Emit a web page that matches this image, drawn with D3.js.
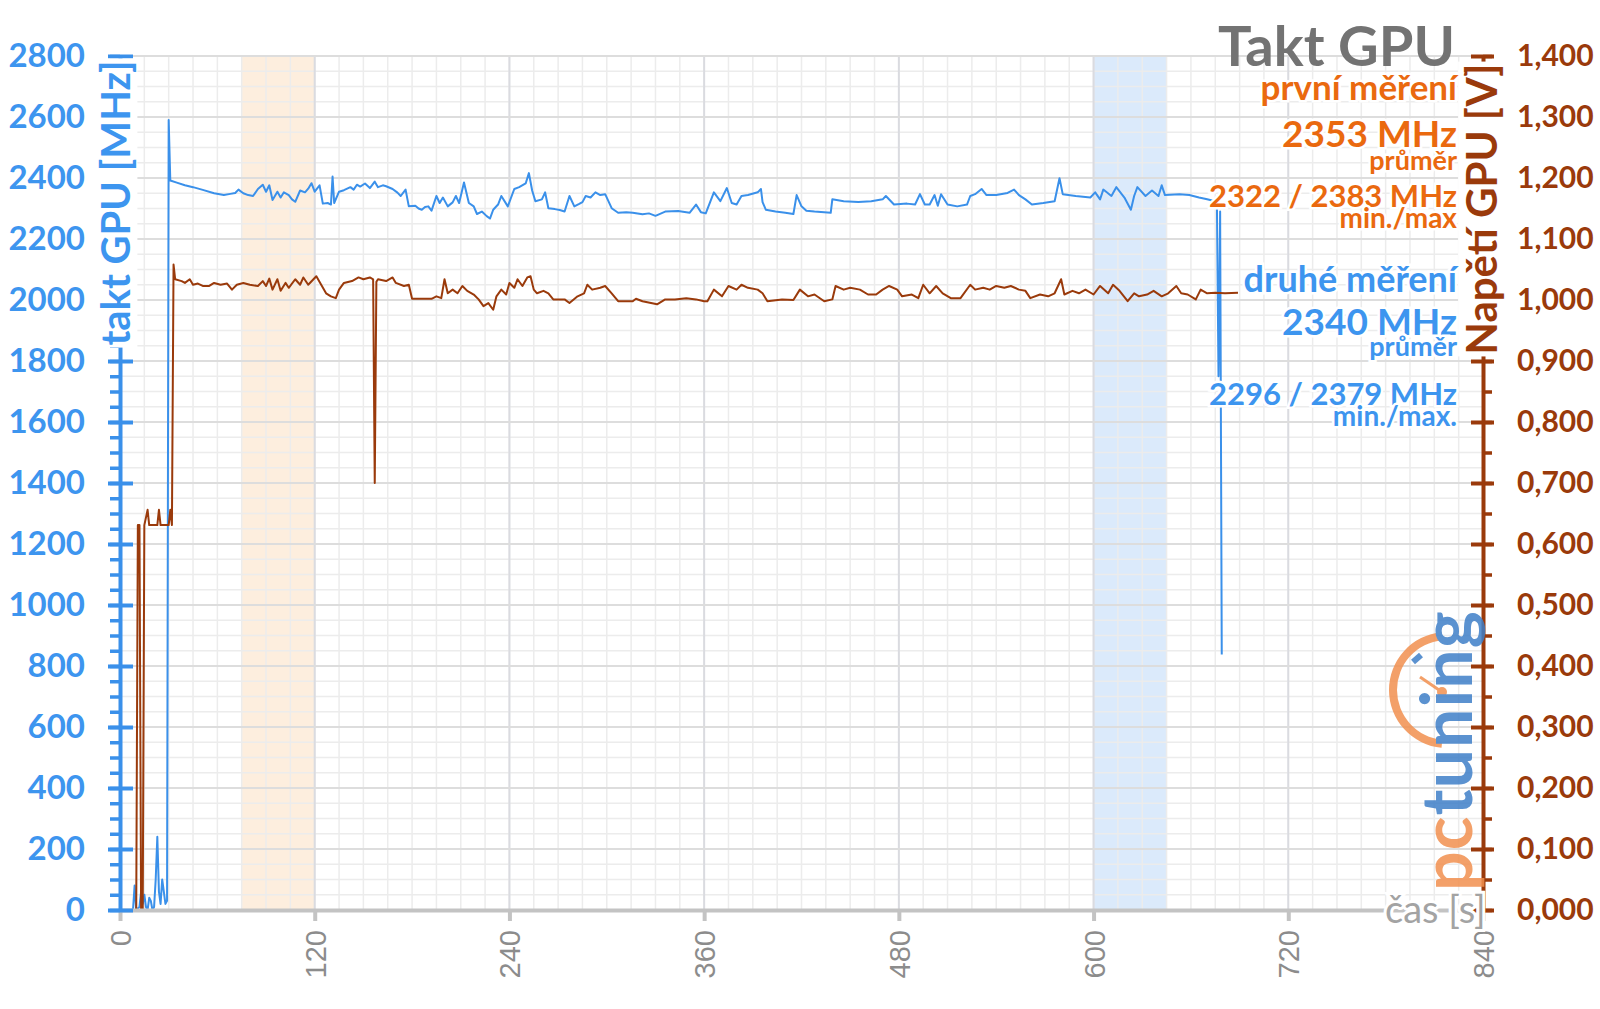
<!DOCTYPE html>
<html>
<head>
<meta charset="utf-8">
<script src="https://cdn.jsdelivr.net/npm/d3@7"></script>
<style>
body { margin: 0; background: #fff; }
text { font-family: Lato, "Open Sans", sans-serif; }
</style>
</head>
<body>
<script>
/** - - - - - - DATA
*/

// GPU clock, seconds / MHz
var clockT = [0,8,9,10,12,13,14,15,16,17,18,19,20,21,22,23,24,25,26,27,28,29,30,31,35,40,45,51,58,64,68,71,73,76,79,82,85,88,90,92,94,97,99,101,104,106,108,111,114,116,118,120,123,125,128,130,131,132,135,138,142,144,146,148,151,154,157,159,162,164,168,171,173,176,178,182,184,186,188,190,192,195,197,199,202,205,207,209,212,215,218,220,223,226,228,230,233,235,239,243,246,250,252,254,256,260,262,264,268,271,274,277,280,283,285,287,290,293,296,299,303,307,312,316,322,326,330,336,344,351,355,358,361,366,370,374,377,380,383,387,393,395,396,398,404,410,415,417,420,423,428,438,439,446,455,463,470,472,477,485,490,493,496,499,502,504,506,510,516,522,524,527,531,534,540,547,551,554,558,562,569,576,579,581,589,598,601,604,606,611,614,619,623,625,627,632,636,640,642,644,653,659,665,670,675,676,677,678,679];
var clockMHz = [0,0,80,0,10,60,20,50,10,0,40,30,0,10,100,240,60,20,100,60,20,30,2590,2392,2385,2376,2370,2361,2350,2344,2348,2351,2362,2350,2344,2341,2364,2378,2355,2376,2328,2355,2336,2353,2344,2330,2322,2359,2353,2365,2383,2355,2376,2316,2318,2313,2405,2318,2355,2360,2370,2362,2378,2372,2382,2367,2388,2370,2376,2373,2364,2352,2341,2362,2307,2309,2300,2296,2305,2307,2293,2341,2318,2336,2307,2320,2341,2318,2385,2318,2307,2282,2290,2275,2267,2296,2313,2341,2307,2364,2370,2382,2416,2359,2324,2330,2353,2301,2298,2295,2290,2341,2307,2315,2321,2341,2336,2353,2344,2347,2301,2286,2288,2286,2281,2284,2276,2290,2292,2286,2313,2288,2284,2353,2324,2367,2318,2313,2341,2344,2353,2364,2321,2296,2290,2286,2282,2344,2307,2293,2290,2286,2330,2324,2321,2324,2330,2341,2313,2316,2313,2347,2313,2313,2344,2309,2347,2313,2307,2313,2341,2347,2364,2344,2344,2351,2362,2344,2330,2313,2318,2324,2399,2347,2341,2336,2353,2330,2362,2341,2370,2336,2296,2341,2370,2341,2359,2341,2376,2344,2347,2344,2336,2330,2324,2322,1750,2290,838];

// GPU voltage, seconds / V
var voltT = [0,10,11,12,13,14,15,17,18,23,24,25,30,31,32,33,34,38,40,43,45,48,51,55,58,62,66,69,72,76,80,85,88,90,92,94,97,99,102,104,108,111,113,116,121,124,127,130,133,135,138,143,147,150,154,156,157,158,159,164,168,170,175,178,180,186,192,195,198,200,202,205,208,211,214,218,221,224,227,230,232,235,238,240,243,245,248,251,253,255,257,261,264,267,274,277,282,286,288,291,296,299,303,307,316,318,322,331,336,342,349,355,360,362,366,371,375,380,383,387,393,396,399,408,415,419,424,428,434,439,441,446,450,456,461,466,470,474,479,482,488,492,495,499,503,507,512,518,524,527,532,536,540,545,549,554,558,561,567,572,576,580,582,587,591,595,600,604,609,612,616,621,625,628,633,637,642,646,651,654,658,663,666,670,675,681,689];
var voltV = [0,0,0.631,0.631,0,0,0.631,0.656,0.631,0.631,0.656,0.631,0.631,0.656,0.631,1.058,1.034,1.031,1.028,1.034,1.025,1.027,1.023,1.023,1.028,1.025,1.027,1.017,1.025,1.028,1.025,1.023,1.031,1.023,1.035,1.017,1.034,1.015,1.028,1.020,1.034,1.025,1.037,1.025,1.039,1.025,1.011,1.006,1.003,1.017,1.028,1.031,1.037,1.034,1.037,1.034,0.700,1.030,1.034,1.031,1.037,1.028,1.023,1.025,1.002,1.002,1.002,1.006,1.003,1.034,1.011,1.017,1.011,1.023,1.015,1.009,1.001,0.990,0.995,0.984,1.006,1.017,1.009,1.028,1.020,1.034,1.023,1.037,1.039,1.017,1.011,1.015,1.011,1.001,1.001,0.995,1.006,1.011,1.025,1.017,1.020,1.023,1.011,0.998,0.998,1.002,0.998,0.993,1.001,1.001,1.003,1.001,0.998,0.998,1.017,1.006,1.023,1.017,1.025,1.020,1.017,1.011,0.998,1.001,1.000,1.017,1.006,1.009,0.998,1.001,1.023,1.017,1.020,1.017,1.009,1.009,1.017,1.023,1.017,1.006,1.009,1.003,1.025,1.011,1.023,1.011,1.003,1.003,1.025,1.017,1.020,1.017,1.023,1.020,1.023,1.017,1.015,1.003,1.009,1.006,1.011,1.034,1.009,1.015,1.011,1.017,1.009,1.023,1.011,1.025,1.015,0.998,1.011,1.006,1.009,1.015,1.006,1.011,1.023,1.011,1.009,1.001,1.017,1.011,1.012,1.011,1.012];

// highlighted measuring windows (s)
var bandStart = [75, 600];
var bandEnd = [120, 645];
var bandColor = ["#fdeede", "#dbeafb"];

// axis ticks
var xTicks = [0, 120, 240, 360, 480, 600, 720, 840];
var leftTicks = d3.range(0, 2801, 200);
var rightTicks = d3.range(0, 1.4001, 0.1);

// legend lines: text, size, baseline
var legendText = ["první měření", "2353 MHz", "průměr", "2322 / 2383 MHz", "min./max",
                  "druhé měření", "2340 MHz", "průměr", "2296 / 2379 MHz", "min./max."];
var legendSize = [35, 37, 27, 31, 28, 36, 37, 27, 31, 28];
var legendY = [100, 147, 170, 207, 228, 292, 335, 356, 405, 426];

var BLUE = "#3a90ea", BROWN = "#9a3a0b", ORANGE = "#ea690f", GRAY = "#8c8c8c";

/** - - - - - - SCALES
*/
var W = 1600, H = 1009;
var x = d3.scaleLinear().domain([0, 840]).range([120, 1483]);
var yL = d3.scaleLinear().domain([0, 2800]).range([910, 56]);
var yR = d3.scaleLinear().domain([0, 1.4]).range([910, 56]);

var svg = d3.select("body").append("svg")
  .attr("width", W).attr("height", H)
  .style("display", "block");

/** - - - - - - GRID + BANDS
*/
var grid = svg.append("g");

bandStart.forEach(function(s, i) {
  grid.append("rect")
    .attr("x", x(s)).attr("y", yL(2800))
    .attr("width", x(bandEnd[i]) - x(s))
    .attr("height", yL(0) - yL(2800))
    .attr("fill", bandColor[i]);
});

// minor lines every 15 s / 50 MHz
grid.selectAll(".vmin").data(d3.range(0, 841, 15)).enter().append("line")
  .attr("x1", x).attr("x2", x)
  .attr("y1", yL(2800)).attr("y2", yL(0))
  .attr("stroke", "#ececec").attr("stroke-width", 1.5);
grid.selectAll(".hmin").data(d3.range(0, 2801, 50)).enter().append("line")
  .attr("x1", x(0)).attr("x2", x(840))
  .attr("y1", yL).attr("y2", yL)
  .attr("stroke", "#ececec").attr("stroke-width", 1.5);
// major lines
grid.selectAll(".vmaj").data(xTicks).enter().append("line")
  .attr("x1", x).attr("x2", x)
  .attr("y1", yL(2800)).attr("y2", yL(0))
  .attr("stroke", "#dadbe0").attr("stroke-width", 2);
grid.selectAll(".hmaj").data(leftTicks).enter().append("line")
  .attr("x1", x(0)).attr("x2", x(840))
  .attr("y1", yL).attr("y2", yL)
  .attr("stroke", "#dddddd").attr("stroke-width", 2);

/** - - - - - - SERIES
*/
var clockData = clockT.map(function(t, i) { return [t, clockMHz[i]]; });
var voltData = voltT.map(function(t, i) { return [t, voltV[i]]; });

var clockLine = d3.line()
  .x(function(d) { return x(d[0]); })
  .y(function(d) { return yL(d[1]); });
var voltLine = d3.line()
  .x(function(d) { return x(d[0]); })
  .y(function(d) { return yR(d[1]); });

svg.append("path").datum(clockData)
  .attr("d", clockLine)
  .attr("fill", "none").attr("stroke", BLUE).attr("stroke-width", 2)
  .attr("stroke-linejoin", "round");
svg.append("path").datum(voltData)
  .attr("d", voltLine)
  .attr("fill", "none").attr("stroke", BROWN).attr("stroke-width", 2)
  .attr("stroke-linejoin", "round");

/** - - - - - - AXES
*/
// x axis
var xAxis = svg.append("g")
  .attr("transform", "translate(0," + yL(0) + ")")
  .call(d3.axisBottom(x).tickValues(xTicks).tickSizeInner(11).tickSizeOuter(0));
xAxis.select(".domain").attr("stroke", "#c3c3c3").attr("stroke-width", 4);
xAxis.selectAll(".tick line").attr("stroke", "#c3c3c3").attr("stroke-width", 4);
xAxis.selectAll(".tick text")
  .attr("fill", GRAY)
  .style("font-family", "'Liberation Sans', Arial, sans-serif")
  .style("font-size", "29px")
  .attr("text-anchor", "end")
  .attr("transform", "rotate(-90)")
  .attr("x", -20).attr("y", 0).attr("dy", "0.36em");

// left axis
var leftMinor = svg.append("g")
  .attr("transform", "translate(" + x(0) + ",0)")
  .call(d3.axisLeft(yL).tickValues(d3.range(0, 2801, 50)).tickSize(10).tickFormat(""));
leftMinor.select(".domain").remove();
leftMinor.selectAll(".tick line").attr("stroke", BLUE).attr("stroke-width", 3.5);

var leftAxis = svg.append("g")
  .attr("transform", "translate(" + x(0) + ",0)")
  .call(d3.axisLeft(yL).tickValues(leftTicks).tickSizeInner(12).tickSizeOuter(0).tickPadding(23)
    .tickFormat(d3.format("d")));
leftAxis.select(".domain").attr("stroke", BLUE).attr("stroke-width", 4);
leftAxis.selectAll(".tick line").attr("x2", 13).attr("x1", -12)
  .attr("stroke", BLUE).attr("stroke-width", 4);
leftAxis.selectAll(".tick text")
  .attr("fill", "#3d95ef")
  .style("font-family", "Lato, sans-serif")
  .style("font-size", "33px").style("font-weight", "bold");

// right axis
var rightMinor = svg.append("g")
  .attr("transform", "translate(" + x(840) + ",0)")
  .call(d3.axisRight(yR).tickValues(d3.range(0, 1.4001, 0.05)).tickSize(9).tickFormat(""));
rightMinor.select(".domain").remove();
rightMinor.selectAll(".tick line").attr("stroke", BROWN).attr("stroke-width", 3.5);

var rightAxis = svg.append("g")
  .attr("transform", "translate(" + x(840) + ",0)")
  .call(d3.axisRight(yR).tickValues(rightTicks).tickSizeInner(12).tickSizeOuter(0).tickPadding(22)
    .tickFormat(function(d) { return d3.format(".3f")(d).replace(".", ","); }));
rightAxis.select(".domain").attr("stroke", BROWN).attr("stroke-width", 4);
rightAxis.selectAll(".tick line").attr("x1", -12).attr("x2", 11)
  .attr("stroke", BROWN).attr("stroke-width", 4);
rightAxis.selectAll(".tick text")
  .attr("fill", BROWN)
  .style("font-family", "Lato, sans-serif")
  .style("font-size", "30px").style("font-weight", "bold");

// axis titles sit on the axis line, with a white backing
function axisTitle(txt, cx, cy, size, color) {
  var g = svg.append("g").attr("transform", "translate(" + cx + "," + cy + ") rotate(-90)");
  var bg = g.append("rect").attr("fill", "#fff");
  var t = g.append("text")
    .attr("text-anchor", "middle").attr("dy", "0.36em")
    .attr("fill", color)
    .style("font-size", size + "px").style("font-weight", "bold")
    .text(txt);
  var b = t.node().getBBox();
  bg.attr("x", b.x - 2).attr("y", b.y + 2).attr("width", b.width + 4).attr("height", b.height - 4);
}
axisTitle("takt GPU [MHz]", 116, 203, 40, "#3d95ef");
axisTitle("Napětí GPU [V]", 1482, 209, 42, BROWN);

/** - - - - - - TITLE + LEGEND
*/
svg.append("text")
  .attr("x", 1455).attr("y", 66)
  .attr("text-anchor", "end")
  .attr("fill", "#737373")
  .style("font-size", "56px").style("font-weight", "bold")
  .text("Takt GPU");

legendText.forEach(function(txt, i) {
  svg.append("text")
    .attr("x", 1457).attr("y", legendY[i])
    .attr("text-anchor", "end")
    .attr("fill", i < 5 ? ORANGE : "#3d95ef")
    .attr("stroke", "#fff").attr("stroke-width", 5).attr("paint-order", "stroke")
    .style("font-size", legendSize[i] + "px").style("font-weight", "bold")
    .text(txt);
});

/** - - - - - - LOGO (pctuning watermark)
*/
var logo = svg.append("g").attr("opacity", 0.85);
var arc = d3.arc().innerRadius(50).outerRadius(58)
  .startAngle(-Math.PI * 0.97).endAngle(-Math.PI * 0.03);
logo.append("path").attr("d", arc).attr("transform", "translate(1447,690)").attr("fill", "#f2904f");
logo.append("line").attr("x1", 1413).attr("y1", 662).attr("x2", 1421).attr("y2", 655)
  .attr("stroke", "#3f7fc8").attr("stroke-width", 6);
logo.append("line").attr("x1", 1420).attr("y1", 677).attr("x2", 1442).attr("y2", 692)
  .attr("stroke", "#f2904f").attr("stroke-width", 3);
logo.append("circle").attr("cx", 1442).attr("cy", 692).attr("r", 5).attr("fill", "#f2904f");
var lt = logo.append("text")
  .attr("transform", "translate(1472,891) rotate(-90)")
  .style("font-size", "70px").style("font-weight", "bold")
  .attr("letter-spacing", "1");
lt.append("tspan").attr("fill", "#f2904f").text("pc");
lt.append("tspan").attr("fill", "#3f7fc8").text("tuning");

// x axis name goes on top of everything, as in the original
svg.append("text")
  .attr("x", 1385).attr("y", yL(0)).attr("dy", "0.35em")
  .attr("fill", "#a3a3a3")
  .attr("stroke", "#fff").attr("stroke-width", 6).attr("paint-order", "stroke")
  .style("font-size", "38px")
  .text("čas [s]");
</script>
</body>
</html>
